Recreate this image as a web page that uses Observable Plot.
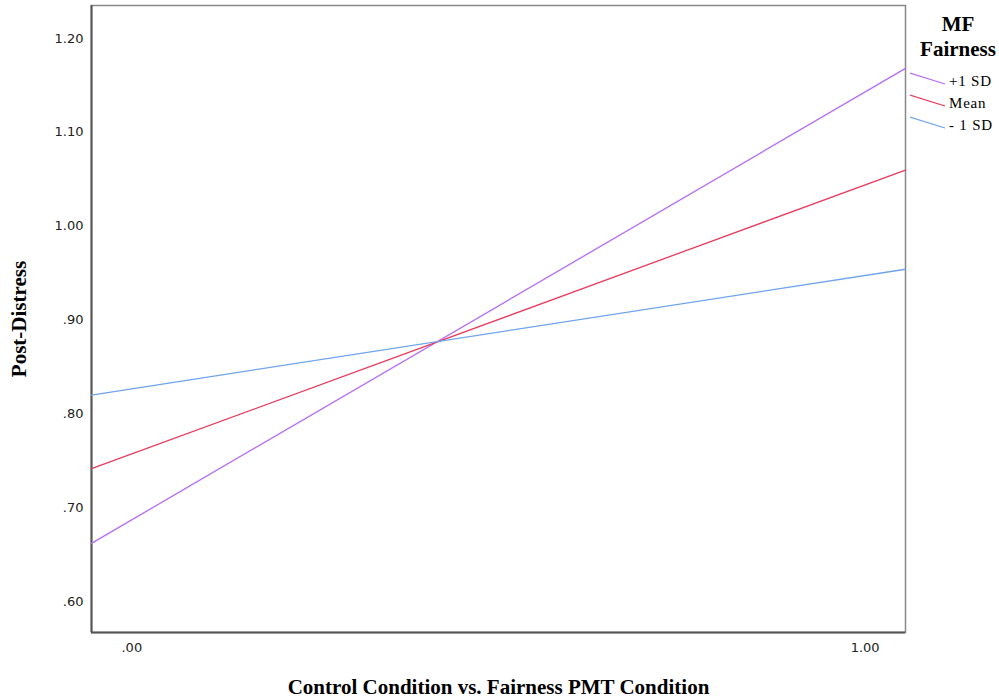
<!DOCTYPE html>
<html>
<head>
<meta charset="utf-8">
<script src="https://cdn.jsdelivr.net/npm/d3@7"></script>
<script src="https://cdn.jsdelivr.net/npm/@observablehq/plot@0.6"></script>
<style>
  html, body { margin: 0; padding: 0; background: #fff; }
  #wrap { position: relative; width: 999px; height: 700px; }
  #wrap svg { font-family: "DejaVu Sans", sans-serif; }
  g[aria-label="x-axis label"] text, g[aria-label="y-axis label"] text {
    font-family: "Liberation Serif", serif; font-weight: bold; font-size: 21px; fill: #000;
  }
  g[aria-label="x-axis tick label"] text, g[aria-label="y-axis tick label"] text { fill: #222; }
  #legend { position: absolute; left: 905px; top: 0; width: 94px; font-family: "Liberation Serif", serif; }
  #legend .title { position: absolute; left: 0; width: 106px; text-align: center; font-weight: bold; font-size: 21px; line-height: 25px; top: 12px; }
  #legend .item { position: absolute; left: 5px; height: 22px; font-size: 15px; letter-spacing: 0.8px; white-space: nowrap; }
  #legend .item svg { position: absolute; left: 0; top: 0; }
  #legend .item span { position: absolute; left: 39px; top: 1px; }
</style>
</head>
<body>
<div id="wrap"></div>
<script>
// Condition axis: values read at the edges of the plot frame
const conditionX = [-0.055, 1.055];
const seriesNames = ["+1 SD", "Mean", "- 1 SD"];
const plus1SD = [0.662, 1.168];
const meanLine = [0.7415, 1.0596];
const minus1SD = [0.820, 0.954];
const seriesColors = ["#b46cf6", "#e8395c", "#6fa3ec"];
const yTicks = [0.6, 0.7, 0.8, 0.9, 1.0, 1.1, 1.2];
const xTicks = [0, 1];
const xDomain = [-0.055, 1.055];
const yDomain = [0.567, 1.235];

const seriesValues = [plus1SD, meanLine, minus1SD];
const data = [];
seriesNames.forEach((name, i) => {
  conditionX.forEach((x, j) => data.push({series: name, x, y: seriesValues[i][j]}));
});

const fmt = v => d3.format(".2f")(v).replace(/^0\./, ".");

const chart = Plot.plot({
  width: 999,
  height: 700,
  marginLeft: 91,
  marginRight: 94,
  marginTop: 5,
  marginBottom: 68,
  style: {fontSize: "13px", color: "#222", background: "#fff"},
  x: {domain: xDomain},
  y: {domain: yDomain},
  color: {domain: seriesNames, range: seriesColors},
  marks: [
    Plot.frame({stroke: "#888", strokeWidth: 1.5}),
    Plot.ruleX([xDomain[0]], {stroke: "#555", strokeWidth: 2}),
    Plot.ruleY([yDomain[0]], {stroke: "#555", strokeWidth: 2}),
    Plot.axisY({ticks: yTicks, tickFormat: fmt, tickSize: 0, tickPadding: 8,
      label: "Post-Distress", labelArrow: "none", labelAnchor: "center", labelOffset: 80}),
    Plot.axisX({ticks: xTicks, tickFormat: fmt, tickSize: 0, tickPadding: 10,
      label: "Control Condition vs. Fairness PMT Condition", labelArrow: "none", labelAnchor: "center", labelOffset: 61}),
    Plot.line(data, {x: "x", y: "y", z: "series", stroke: "series", strokeWidth: 1.3})
  ]
});
// strip any label arrows if the library version adds them
chart.querySelectorAll('g[aria-label$="axis label"] text').forEach(t => {
  t.textContent = t.textContent.replace(/\s*[\u2191\u2192\u2190\u2193]\s*/g, "").trim();
});
const wrap = document.getElementById("wrap");
wrap.appendChild(chart);

// Legend
const legend = document.createElement("div");
legend.id = "legend";
legend.innerHTML = `<div class="title">MF<br>Fairness</div>`;
seriesNames.forEach((name, i) => {
  const item = document.createElement("div");
  item.className = "item";
  item.style.top = (72 + i * 22) + "px";
  item.innerHTML = `<svg width="40" height="16"><line x1="0" y1="1" x2="35" y2="12" stroke="${seriesColors[i]}" stroke-width="1.3"/></svg><span>${name}</span>`;
  legend.appendChild(item);
});
wrap.appendChild(legend);
</script>
</body>
</html>
